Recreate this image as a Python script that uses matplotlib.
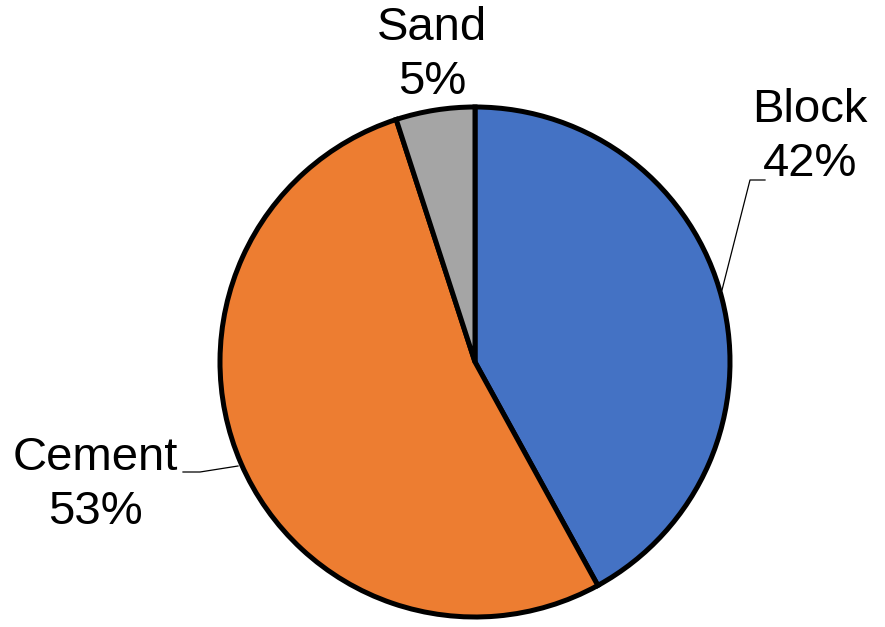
import matplotlib
matplotlib.use("Agg")
import matplotlib.pyplot as plt

categories = ["Block", "Cement", "Sand"]
values = [42, 53, 5]
colors = ["#4472C4", "#ED7D31", "#A5A5A5"]

plt.rcParams['font.family'] = ['Liberation Sans', 'DejaVu Sans']

W, H = 885, 627
fig = plt.figure(figsize=(W / 100, H / 100), dpi=100)
ax = fig.add_axes([0, 0, 1, 1])

def Y(y):
    return H - y

cx, cy, r = 475, 362, 255
ax.pie(values, colors=colors, startangle=90, counterclock=False,
       center=(cx, Y(cy)), radius=r,
       wedgeprops=dict(edgecolor='black', linewidth=3.6), frame=True)
ax.set_xlim(0, W)
ax.set_ylim(0, H)
ax.set_aspect('equal')
ax.axis('off')

total = sum(values)
label_pos = {"Block": (810, 137), "Cement": (95, 485), "Sand": (432, 55)}
for c, v in zip(categories, values):
    x, y = label_pos[c]
    ax.text(x, Y(y), f"{c}\n{round(100 * v / total)}%", ha='center', va='center',
            fontsize=34, linespacing=1.3, color='black')

# leader lines
ax.plot([765, 750, 722], [Y(180), Y(180), Y(290)], color='black', lw=0.9)
ax.plot([183, 200, 238], [Y(472), Y(472), Y(466)], color='black', lw=0.9)

fig.savefig("out.png", dpi=100)
